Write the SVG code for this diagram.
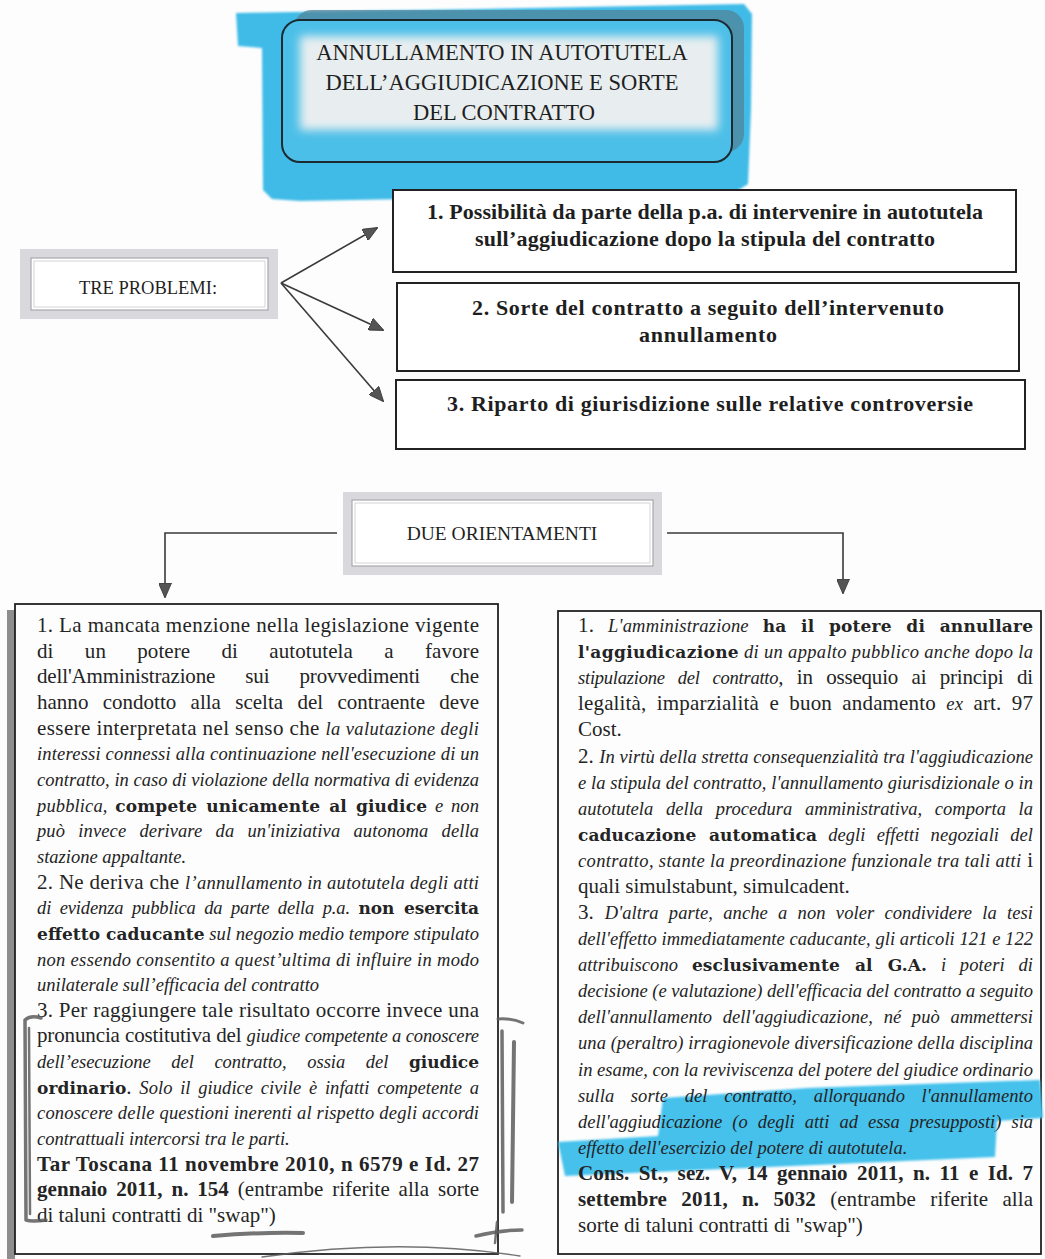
<svg xmlns="http://www.w3.org/2000/svg" width="1045" height="1259" viewBox="0 0 1045 1259">
  <defs>
    <style>
      .body{font-family:"Liberation Serif","Times New Roman",serif;font-size:21px;fill:#242424}
      .it{font-style:italic;font-size:18.5px}
      .bk{font-family:"DejaVu Serif",serif;font-weight:bold;font-size:17px;font-style:normal}
      .bd{font-weight:bold;font-style:normal;font-size:21px}
      .head{font-family:"Liberation Serif","Times New Roman",serif;fill:#1f1f1f}
      .prob{font-family:"Liberation Serif","Times New Roman",serif;font-weight:bold;font-size:22px;fill:#1e1e1e;text-anchor:middle}
      .box{fill:#fff;stroke:#222;stroke-width:2}
      .conn{fill:none;stroke:#3a3a3a;stroke-width:1.6}
      .pencil{fill:none;stroke:#5c5c5c;stroke-linecap:round;stroke-linejoin:round;opacity:.85}
      .frame-out{fill:#d9d9dd}
      .frame-in{fill:#fff;stroke:#a9a9ad;stroke-width:1.2}
    </style>
    <marker id="arr" viewBox="0 0 15 13" refX="14" refY="6.5" markerWidth="15" markerHeight="13" markerUnits="userSpaceOnUse" orient="auto">
      <path d="M0,0 L15,6.5 L0,13 Z" fill="#555" stroke="#333" stroke-width="0.8"/>
    </marker>
    <filter id="soft" x="-5%" y="-5%" width="110%" height="110%"><feGaussianBlur stdDeviation="1.2"/></filter>
    <filter id="haze" x="-10%" y="-20%" width="120%" height="140%"><feGaussianBlur stdDeviation="5"/></filter>
  </defs>

  <rect width="1045" height="1259" fill="#fdfdfd"/>

  <!-- title with marker highlight -->
  <g id="node-title">
    <path d="M236,13 L480,9 L744,4 L752,14 L751,110 L748,184 L734,193 L520,197 L300,201 L272,199 L263,190 L262,48 L238,46 Z" fill="#3fbbe7" filter="url(#soft)"/>
    <rect x="294" y="10" width="450" height="142" rx="18" fill="#52849a" opacity="0.75"/>
    <rect x="282" y="20" width="450" height="142" rx="18" fill="#4cbfe8"/>
    <rect x="300" y="36" width="418" height="94" fill="#e8eef0" filter="url(#haze)"/>
    <rect x="282" y="20" width="450" height="142" rx="18" fill="none" stroke="#1b2a31" stroke-width="2"/>
    <text class="head" font-size="22.5" x="502" y="60" text-anchor="middle">ANNULLAMENTO IN AUTOTUTELA</text>
    <text class="head" font-size="22.5" x="502" y="90" text-anchor="middle">DELL’AGGIUDICAZIONE E SORTE</text>
    <text class="head" font-size="22.5" x="504" y="120" text-anchor="middle">DEL CONTRATTO</text>
  </g>

  <g id="node-tre">
    <rect class="frame-out" x="20" y="249" width="258" height="70"/>
    <rect class="frame-in" x="31" y="258" width="237" height="52"/>
    <rect x="34" y="261" width="231" height="46" fill="none" stroke="#d4d4d8" stroke-width="1"/>
    <text class="head" font-size="18.5" x="148" y="294" text-anchor="middle">TRE PROBLEMI:</text>
  </g>

  <g id="node-p1">
    <rect class="box" x="393" y="190" width="623" height="82"/>
    <text class="prob" x="705" y="219" textLength="556" lengthAdjust="spacing">1. Possibilità da parte della p.a. di intervenire in autotutela</text>
    <text class="prob" x="705" y="246" textLength="460" lengthAdjust="spacing">sull’aggiudicazione dopo la stipula del contratto</text>
  </g>
  <g id="node-p2">
    <rect class="box" x="397" y="283" width="622" height="88"/>
    <text class="prob" x="708" y="315" textLength="472" lengthAdjust="spacing">2. Sorte del contratto a seguito dell’intervenuto</text>
    <text class="prob" x="708" y="342" textLength="138" lengthAdjust="spacing">annullamento</text>
  </g>
  <g id="node-p3">
    <rect class="box" x="396" y="380" width="629" height="69"/>
    <text class="prob" x="710" y="411" textLength="526" lengthAdjust="spacing">3. Riparto di giurisdizione sulle relative controversie</text>
  </g>

  <g id="node-due">
    <rect class="frame-out" x="343" y="492" width="319" height="83"/>
    <rect class="frame-in" x="352" y="500" width="301" height="66"/>
    <rect x="355" y="503" width="295" height="60" fill="none" stroke="#d4d4d8" stroke-width="1"/>
    <text class="head" font-size="19.5" x="502" y="540" text-anchor="middle">DUE ORIENTAMENTI</text>
  </g>

  <g id="connectors">
    <line class="conn" x1="281" y1="283" x2="377" y2="228" marker-end="url(#arr)"/>
    <line class="conn" x1="281" y1="283" x2="383" y2="330" marker-end="url(#arr)"/>
    <line class="conn" x1="281" y1="283" x2="383" y2="401" marker-end="url(#arr)"/>
    <path class="conn" d="M337,533 H165 V597" marker-end="url(#arr)"/>
    <path class="conn" d="M667,533 H843 V593" marker-end="url(#arr)"/>
  </g>

  <!-- first orientation: ordinary judge -->
  <g id="node-left">
    <rect x="7" y="610" width="8" height="649" fill="#8e8e8e"/>
    <rect x="15" y="604" width="483" height="650" fill="none" stroke="#222" stroke-width="1.8"/>
    <text class="body" x="37" y="632" textLength="442" lengthAdjust="spacing">1.  La mancata menzione nella legislazione vigente</text>
    <text class="body" x="37" y="657.7" word-spacing="26" textLength="442" lengthAdjust="spacing">di un potere di autotutela a favore</text>
    <text class="body" x="37" y="683.3" word-spacing="25" textLength="442" lengthAdjust="spacing">dell'Amministrazione sui provvedimenti che</text>
    <text class="body" x="37" y="709" word-spacing="9" textLength="442" lengthAdjust="spacing">hanno condotto alla scelta del contraente deve</text>
    <text class="body" x="37" y="734.6" textLength="442" lengthAdjust="spacing">essere interpretata nel senso che <tspan class="it">la valutazione degli</tspan></text>
    <text class="body it" x="37" y="760.3" textLength="442" lengthAdjust="spacing">interessi connessi alla continuazione nell'esecuzione di un</text>
    <text class="body it" x="37" y="785.9" textLength="442" lengthAdjust="spacing">contratto, in caso di violazione della normativa di evidenza</text>
    <text class="body" x="37" y="811.6" word-spacing="3" textLength="442" lengthAdjust="spacing"><tspan class="it">pubblica, </tspan><tspan class="bk">compete unicamente al giudice</tspan><tspan class="it"> e non</tspan></text>
    <text class="body it" x="37" y="837.2" word-spacing="8.5" textLength="442" lengthAdjust="spacing">può invece derivare da un'iniziativa autonoma della</text>
    <text class="body it" x="37" y="862.9">stazione appaltante.</text>
    <text class="body" x="37" y="888.5" textLength="442" lengthAdjust="spacing">2. Ne deriva che <tspan class="it">l’annullamento in autotutela degli atti</tspan></text>
    <text class="body" x="37" y="914.2" word-spacing="4" textLength="442" lengthAdjust="spacing"><tspan class="it">di evidenza pubblica da parte della p.a. </tspan><tspan class="bk">non esercita</tspan></text>
    <text class="body" x="37" y="939.8" textLength="442" lengthAdjust="spacing"><tspan class="bk">effetto caducante</tspan><tspan class="it"> sul negozio medio tempore stipulato</tspan></text>
    <text class="body it" x="37" y="965.5" textLength="442" lengthAdjust="spacing">non essendo consentito a quest’ultima di influire in modo</text>
    <text class="body it" x="37" y="991.1">unilaterale sull’efficacia del contratto</text>
    <text class="body" x="37" y="1016.8" textLength="442" lengthAdjust="spacing">3. Per raggiungere tale risultato occorre invece una</text>
    <text class="body" x="37" y="1042.4" textLength="442" lengthAdjust="spacing">pronuncia costitutiva del <tspan class="it">giudice competente a conoscere</tspan></text>
    <text class="body" x="37" y="1068.1" word-spacing="16" textLength="442" lengthAdjust="spacing"><tspan class="it">dell’esecuzione del contratto, ossia del </tspan><tspan class="bk">giudice</tspan></text>
    <text class="body" x="37" y="1093.7" word-spacing="3" textLength="442" lengthAdjust="spacing"><tspan class="bk">ordinario</tspan>.<tspan class="it"> Solo il giudice civile  è infatti  competente a</tspan></text>
    <text class="body it" x="37" y="1119.4" textLength="442" lengthAdjust="spacing">conoscere delle questioni inerenti al rispetto degli accordi</text>
    <text class="body it" x="37" y="1145">contrattuali intercorsi tra le parti.</text>
    <text class="body bd" x="37" y="1170.7" textLength="442" lengthAdjust="spacing">Tar Toscana 11 novembre 2010, n 6579 e Id. 27</text>
    <text class="body" x="37" y="1196.3" word-spacing="3.5" textLength="442" lengthAdjust="spacing"><tspan class="bd">gennaio 2011, n. 154</tspan> (entrambe riferite alla sorte</text>
    <text class="body" x="37" y="1222">di taluni contratti di "swap")</text>
  </g>

  <!-- second orientation: administrative judge -->
  <g id="node-right">
    <rect x="558" y="611" width="483" height="643" fill="none" stroke="#222" stroke-width="1.8"/>
    <path d="M663,1098 L807,1088 L1040,1080 L1043,1118 L997,1121 L995,1157 L565,1176 L558,1142 L658,1136 Z" fill="#45c1ec" filter="url(#soft)"/>
    <text class="body" x="578" y="632" word-spacing="8.5" textLength="455" lengthAdjust="spacing">1. <tspan class="it">L'amministrazione</tspan> <tspan class="bk">ha il potere di annullare</tspan></text>
    <text class="body" x="578" y="658.1" textLength="455" lengthAdjust="spacing"><tspan class="bk">l'aggiudicazione</tspan><tspan class="it"> di un appalto pubblico anche dopo la</tspan></text>
    <text class="body" x="578" y="684.2" word-spacing="8.5" textLength="455" lengthAdjust="spacing"><tspan class="it">stipulazione del contratto</tspan>, in ossequio ai principi di</text>
    <text class="body" x="578" y="710.3" word-spacing="5" textLength="455" lengthAdjust="spacing">legalità, imparzialità e buon andamento <tspan class="it">ex</tspan> art. 97</text>
    <text class="body" x="578" y="736.4">Cost.</text>
    <text class="body" x="578" y="762.5" textLength="455" lengthAdjust="spacing">2. <tspan class="it">In virtù della stretta consequenzialità tra l'aggiudicazione</tspan></text>
    <text class="body it" x="578" y="788.5" textLength="455" lengthAdjust="spacing">e la stipula del contratto, l'annullamento giurisdizionale o in</text>
    <text class="body it" x="578" y="814.6" word-spacing="8" textLength="455" lengthAdjust="spacing">autotutela della procedura amministrativa, comporta la</text>
    <text class="body" x="578" y="840.7" word-spacing="6.5" textLength="455" lengthAdjust="spacing"><tspan class="bk">caducazione automatica</tspan><tspan class="it"> degli effetti negoziali del</tspan></text>
    <text class="body" x="578" y="866.8" textLength="455" lengthAdjust="spacing"><tspan class="it">contratto, stante la preordinazione funzionale tra tali atti</tspan> i</text>
    <text class="body" x="578" y="892.9">quali simulstabunt, simulcadent.</text>
    <text class="body" x="578" y="919" word-spacing="5.5" textLength="455" lengthAdjust="spacing">3. <tspan class="it">D'altra parte, anche a non voler condividere la tesi</tspan></text>
    <text class="body it" x="578" y="945.1" textLength="455" lengthAdjust="spacing">dell'effetto immediatamente caducante, gli articoli 121 e 122</text>
    <text class="body" x="578" y="971.2" word-spacing="9" textLength="455" lengthAdjust="spacing"><tspan class="it">attribuiscono </tspan><tspan class="bk">esclusivamente al G.A.</tspan><tspan class="it"> i poteri di</tspan></text>
    <text class="body it" x="578" y="997.3" textLength="455" lengthAdjust="spacing">decisione (e valutazione) dell'efficacia del contratto a seguito</text>
    <text class="body it" x="578" y="1023.4" word-spacing="6" textLength="455" lengthAdjust="spacing">dell'annullamento dell'aggiudicazione, né può ammettersi</text>
    <text class="body it" x="578" y="1049.4" textLength="455" lengthAdjust="spacing">una (peraltro) irragionevole diversificazione della disciplina</text>
    <text class="body it" x="578" y="1075.5" textLength="455" lengthAdjust="spacing">in esame, con la reviviscenza del potere del giudice ordinario</text>
    <text class="body it" x="578" y="1101.6" word-spacing="12" textLength="455" lengthAdjust="spacing">sulla sorte del contratto, allorquando l'annullamento</text>
    <text class="body it" x="578" y="1127.7" word-spacing="5.5" textLength="455" lengthAdjust="spacing">dell'aggiudicazione (o degli atti ad essa presupposti) sia</text>
    <text class="body it" x="578" y="1153.8">effetto dell'esercizio del potere di autotutela.</text>
    <text class="body bd" x="578" y="1179.9" word-spacing="4" textLength="455" lengthAdjust="spacing">Cons. St., sez. V, 14 gennaio 2011, n. 11 e Id. 7</text>
    <text class="body" x="578" y="1206" word-spacing="9" textLength="455" lengthAdjust="spacing"><tspan class="bd">settembre 2011, n. 5032</tspan> (entrambe riferite alla</text>
    <text class="body" x="578" y="1232.1">sorte di taluni contratti di "swap")</text>
  </g>

  <!-- pencil annotations -->
  <g id="pencil-marks">
    <path class="pencil" stroke-width="3.5" d="M41,1018 C34,1016 28,1017 25,1020 L26,1220 C32,1222 39,1221 46,1220"/>
    <path class="pencil" stroke-width="2.5" d="M29,1028 L30,1214"/>
    <path class="pencil" stroke-width="4" d="M213,1236 Q260,1232 303,1233"/>
    <path class="pencil" stroke-width="3" d="M498,1019 Q512,1018 523,1023"/>
    <path class="pencil" stroke-width="3.5" d="M502,1031 L503,1212"/>
    <path class="pencil" stroke-width="4" d="M514,1042 L512,1202"/>
    <path class="pencil" stroke-width="3.5" d="M476,1236 Q500,1230 522,1230"/>
    <path class="pencil" stroke-width="2.5" d="M497,1222 L495,1243"/>
    <path class="pencil" stroke-width="1.4" d="M262,1257 Q400,1237 520,1256"/>
  </g>
</svg>
